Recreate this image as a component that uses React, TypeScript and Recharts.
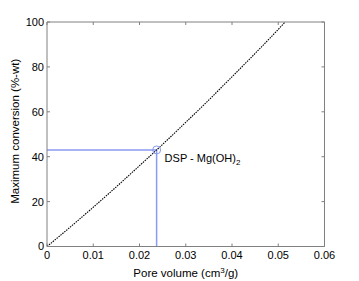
import { ComposedChart, Line, XAxis, YAxis, ReferenceDot } from "recharts";

// Pore volume (cm3/g) vs maximum conversion (%-wt)
const poreVolume = [0, 0.005, 0.01, 0.015, 0.02, 0.025, 0.03, 0.035, 0.04, 0.045, 0.05, 0.0515];
const conversion = [0, 8.6, 17.5, 26.6, 36.0, 45.5, 55.3, 65.3, 75.6, 86.0, 96.7, 100];

const xTicks = [0, 0.01, 0.02, 0.03, 0.04, 0.05, 0.06];
const yTicks = [0, 20, 40, 60, 80, 100];

// DSP - Mg(OH)2 point
const markerX = 0.0237;
const markerY = 43;
const markerName = "DSP - Mg(OH)";
const markerSub = "2";

const curveData = poreVolume.map((x, i) => ({ x, y: conversion[i] }));
const guideData = [
  { x: 0, y: markerY },
  { x: markerX, y: markerY },
  { x: markerX, y: 0 },
];

const FONT = "'Liberation Sans', Arial, Helvetica, sans-serif";
const GRAY = "#808080";
const BLUE = "#8a9af2";

function XTitle({ viewBox }: any) {
  const cx = viewBox.x + viewBox.width / 2;
  return (
    <text x={cx} y={viewBox.y + 30} textAnchor="middle" fontSize={11.5} fontFamily={FONT} fill="#000">
      Pore volume (cm<tspan dy={-4} fontSize={8}>3</tspan>
      <tspan dy={4}>/g)</tspan>
    </text>
  );
}

function YTitle({ viewBox }: any) {
  const cy = viewBox.y + viewBox.height / 2 - 3;
  const x = 18.5;
  return (
    <text
      x={x}
      y={cy}
      transform={`rotate(-90 ${x} ${cy})`}
      textAnchor="middle"
      fontSize={11.5}
      fontFamily={FONT}
      fill="#000"
    >
      Maximum conversion (%-wt)
    </text>
  );
}

function MarkerLabel({ viewBox }: any) {
  const cx = viewBox.x + viewBox.width / 2;
  const cy = viewBox.y + viewBox.height / 2;
  return (
    <text x={cx + 8} y={cy + 12} fontSize={11} fontFamily={FONT} fill="#000">
      {markerName}
      <tspan dy={3} fontSize={8}>{markerSub}</tspan>
    </text>
  );
}

// empty tick: mirrored axes only show their inward tick lines
const NoLabel = () => <g />;

export default function App() {
  const tickStyle = { fill: "#000", fontSize: 11, fontFamily: FONT };
  const mirrorX = {
    dataKey: "x",
    type: "number" as const,
    domain: [0, 0.06],
    ticks: xTicks,
    allowDataOverflow: true,
    mirror: true,
    tick: NoLabel,
    tickSize: 3,
    tickLine: { stroke: GRAY },
  };
  const mirrorY = {
    type: "number" as const,
    domain: [0, 100],
    ticks: yTicks,
    allowDataOverflow: true,
    mirror: true,
    tick: NoLabel,
    tickSize: 3,
    tickLine: { stroke: GRAY },
  };
  return (
    <div style={{ position: "absolute", left: 0, top: 0, background: "#fff" }}>
      <ComposedChart
        width={359}
        height={281}
        data={curveData}
        margin={{ top: 22, right: 34.5, bottom: 14.5, left: 7 }}
      >
        <XAxis
          xAxisId={0}
          dataKey="x"
          type="number"
          domain={[0, 0.06]}
          ticks={xTicks}
          allowDataOverflow
          tick={tickStyle}
          tickLine={false}
          tickSize={0}
          tickMargin={5}
          height={20}
          axisLine={{ stroke: GRAY }}
          label={<XTitle />}
        />
        <YAxis
          yAxisId={0}
          type="number"
          domain={[0, 100]}
          ticks={yTicks}
          allowDataOverflow
          tick={tickStyle}
          tickLine={false}
          tickSize={0}
          tickMargin={3}
          width={40}
          axisLine={{ stroke: GRAY }}
          label={<YTitle />}
        />
        {/* inward ticks on all four sides */}
        <XAxis xAxisId="bm" orientation="bottom" axisLine={false} {...mirrorX} />
        <XAxis xAxisId="tm" orientation="top" axisLine={{ stroke: GRAY }} {...mirrorX} />
        <YAxis yAxisId="lm" orientation="left" axisLine={false} {...mirrorY} />
        <YAxis yAxisId="rm" orientation="right" axisLine={{ stroke: GRAY }} {...mirrorY} />

        {/* invisible series so the frame axes get a scale */}
        <Line xAxisId="bm" yAxisId="lm" dataKey="y" stroke="none" dot={false} legendType="none" isAnimationActive={false} />
        <Line xAxisId="tm" yAxisId="rm" dataKey="y" stroke="none" dot={false} legendType="none" isAnimationActive={false} />

        <Line
          xAxisId={0}
          yAxisId={0}
          data={guideData}
          dataKey="y"
          type="linear"
          stroke={BLUE}
          strokeWidth={1.5}
          dot={false}
          isAnimationActive={false}
        />
        <Line
          xAxisId={0}
          yAxisId={0}
          dataKey="y"
          type="monotone"
          stroke="#000"
          strokeWidth={1.1}
          strokeDasharray="1.5 1"
          dot={false}
          isAnimationActive={false}
        />
        <ReferenceDot
          xAxisId={0}
          yAxisId={0}
          x={markerX}
          y={markerY}
          r={4}
          fill="none"
          stroke={BLUE}
          strokeWidth={1}
          label={<MarkerLabel />}
        />
      </ComposedChart>
    </div>
  );
}
